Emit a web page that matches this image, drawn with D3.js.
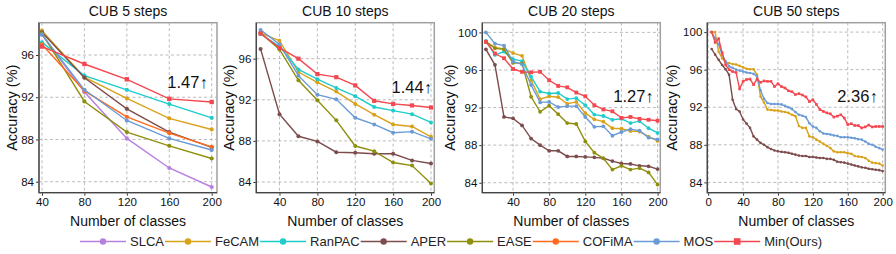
<!DOCTYPE html>
<html>
<head>
<meta charset="utf-8">
<script src="https://cdn.jsdelivr.net/npm/d3@7"></script>
<style>
  body { margin: 0; background: #fff; }
  svg { display: block; font-family: "Liberation Sans", Arial, sans-serif; }
</style>
</head>
<body>
<svg id="chart" width="896" height="254"></svg>
<script>
// Methods, in legend / drawing order
const methods = ['SLCA', 'FeCAM', 'RanPAC', 'APER', 'EASE', 'COFiMA', 'MOS', 'Min(Ours)'];
const colors = ['#b77fe0', '#d9a21b', '#1fcccc', '#7d4c4c', '#8f8f0e', '#ff6a1c', '#6b9bd6', '#f44750'];

// CUB 5 steps
const steps5X = [40, 80, 120, 160, 200];
const steps5 = [
  [97.9, 92.5, 88.1, 85.3, 83.5],
  [98.3, 93.9, 91.9, 90.0, 88.95],
  [97.2, 94.05, 92.7, 91.35, 90.05],
  [98.15, 93.85, 90.9, 88.7, 87.25],
  [98.05, 91.6, 88.7, 87.4, 86.2],
  [97.0, 92.6, 90.15, 88.6, 87.3],
  [97.95, 92.7, 89.8, 88.1, 87.0],
  [96.8, 95.15, 93.7, 91.85, 91.55]
];

// CUB 10 steps
const steps10X = [20, 40, 60, 80, 100, 120, 140, 160, 180, 200];
const steps10 = [
  null,
  [98.5, 97.75, 94.7, 93.7, 92.8, 91.6, 90.55, 89.6, 89.4, 88.4],
  [98.4, 97.2, 94.95, 94.0, 93.15, 92.35, 91.3, 90.95, 90.6, 89.8],
  [96.95, 90.6, 88.45, 87.95, 86.9, 86.85, 86.75, 86.75, 86.1, 85.8],
  [98.5, 96.9, 93.9, 91.95, 90.0, 87.5, 87.0, 85.9, 85.6, 83.85],
  null,
  [98.8, 97.4, 94.35, 92.5, 92.05, 90.25, 89.6, 88.8, 88.9, 88.2],
  [98.45, 97.05, 96.0, 94.5, 94.2, 93.4, 91.9, 91.6, 91.45, 91.25]
];

// CUB 20 steps
const steps20X = [10, 20, 30, 40, 50, 60, 70, 80, 90, 100, 110, 120, 130, 140, 150, 160, 170, 180, 190, 200];
const steps20 = [
  null,
  [99.0, 98.4, 98.25, 97.8, 97.5, 94.9, 92.9, 93.2, 93.1, 92.4, 92.6, 91.4, 90.75, 90.5, 89.8, 89.75, 89.5, 89.45, 88.9, 88.45],
  [99.1, 97.6, 97.95, 97.15, 96.95, 95.3, 93.7, 93.5, 93.55, 92.9, 93.0, 92.25, 91.25, 91.1, 90.7, 90.8, 90.35, 90.55, 89.8, 89.3],
  [98.2, 96.55, 91.0, 90.85, 90.1, 88.7, 88.0, 87.4, 87.4, 86.8, 86.8, 86.75, 86.7, 86.6, 86.3, 86.05, 86.0, 85.8, 85.75, 85.45],
  [99.0, 98.3, 98.2, 96.75, 96.7, 93.15, 91.55, 92.2, 91.3, 90.35, 90.25, 88.4, 87.2, 86.6, 85.4, 85.8, 85.4, 85.55, 85.1, 83.8],
  null,
  [100.0, 98.8, 98.6, 96.9, 96.6, 94.4, 92.55, 92.6, 92.05, 92.15, 92.15, 91.0, 89.95, 90.0, 89.0, 89.4, 89.7, 89.55, 88.8, 88.6],
  [99.0, 97.75, 97.25, 96.1, 95.8, 95.75, 95.8, 94.9, 94.3, 94.15, 93.6, 93.2, 92.25, 91.8, 91.6, 90.9, 91.0, 90.8, 90.7, 90.6]
];

// CUB 50 steps
const steps50X = [4, 8, 12, 16, 20, 24, 28, 32, 36, 40, 44, 48, 52, 56, 60, 64, 68, 72, 76, 80,
  84, 88, 92, 96, 100, 104, 108, 112, 116, 120, 124, 128, 132, 136, 140, 144, 148, 152, 156, 160,
  164, 168, 172, 176, 180, 184, 188, 192, 196, 200];
const steps50 = [
  null,
  [100, 100, 97.9, 97.2, 96.8, 96.7, 96.6, 96.55, 96.4, 96.25, 96.1, 96.05, 96.05, 95.45, 93.15, 92.5, 91.75, 91.7, 91.65, 91.65,
   91.55, 91.5, 91.4, 91.2, 91.05, 90.0, 89.8, 89.8, 88.9, 88.8, 88.55, 88.35, 88.1, 87.9, 87.65, 87.3, 87.2, 87.2, 87.2, 87.1,
   87.05, 86.8, 86.75, 86.7, 86.6, 86.3, 86.1, 86.05, 86.0, 85.8],
  null,
  [98.2, 97.6, 97.05, 96.5, 96.05, 95.45, 92.8, 91.8, 91.55, 90.7, 90.25, 89.8, 88.9, 88.55, 88.2, 88.0, 87.75, 87.55, 87.4, 87.3,
   87.25, 87.2, 87.15, 87.05, 86.95, 86.85, 86.8, 86.8, 86.7, 86.7, 86.65, 86.6, 86.6, 86.5, 86.5, 86.4, 86.2, 86.15, 86.1, 86.0,
   85.9, 85.8, 85.7, 85.6, 85.55, 85.45, 85.4, 85.35, 85.3, 85.2],
  null,
  null,
  [100, 99.3, 98.7, 97.6, 96.9, 96.35, 96.2, 96.0, 95.9, 95.8, 95.7, 95.65, 95.55, 95.3, 93.8, 92.9, 92.45, 92.35, 92.35, 92.35,
   92.3, 92.15, 92.0, 91.8, 91.5, 91.2, 91.1, 90.95, 90.3, 89.95, 89.8, 89.45, 89.2, 89.15, 89.1, 89.0, 88.95, 88.8, 88.8, 88.8,
   88.75, 88.7, 88.6, 88.55, 88.35, 88.1, 88.0, 87.8, 87.65, 87.5],
  [100, 98.9, 99.3, 97.8, 96.5, 96.0, 95.8, 95.7, 93.95, 94.75, 94.95, 95.0, 94.4, 95.0, 94.65, 94.8, 94.75, 94.75, 94.2, 94.5,
   94.2, 94.05, 93.75, 93.65, 93.35, 93.45, 93.3, 93.1, 92.6, 92.8, 92.3, 91.75, 91.55, 91.4, 91.3, 90.95, 91.05, 91.2, 90.85, 90.15,
   90.25, 90.05, 90.05, 89.8, 89.9, 90.1, 89.9, 89.95, 89.95, 89.95]
];

const titles = ['CUB 5 steps', 'CUB 10 steps', 'CUB 20 steps', 'CUB 50 steps'];
const gains = ['1.47↑', '1.44↑', '1.27↑', '2.36↑'];

const svg = d3.select('#chart');
const plotTop = 22.7, plotBottom = 192.7, plotW = 178;

const panels = [
  { xs: steps5X, rows: steps5, left: 39, xDom: [37.2, 205], yDom: [82.96, 99.06],
    xTicks: [40, 80, 120, 160, 200], yTicks: [84, 88, 92, 96], gainDx: -4, gainY: 92.9, r: 2.1, sq: 4.4, labelDx: 27 },
  { xs: steps10X, rows: steps10, left: 256.3, xDom: [15.5, 203.5], yDom: [82.96, 99.5],
    xTicks: [40, 80, 120, 160, 200], yTicks: [84, 88, 92, 96], gainDx: 1, gainY: 92.66, r: 2.0, sq: 4.2, labelDx: 27 },
  { xs: steps20X, rows: steps20, left: 482.3, xDom: [6, 203], yDom: [82.94, 101.03],
    xTicks: [40, 80, 120, 160, 200], yTicks: [84, 88, 92, 96, 100], gainDx: -4, gainY: 92.6, r: 1.9, sq: 3.8, labelDx: 32 },
  { xs: steps50X, rows: steps50, left: 707.3, xDom: [-1, 203], yDom: [82.9, 101],
    xTicks: [0, 40, 80, 120, 160, 200], yTicks: [84, 88, 92, 96, 100], gainDx: -5, gainY: 92.6, r: 1.3, sq: 2.6, labelDx: 35 }
];

panels.forEach((p, pi) => {
  const x = d3.scaleLinear().domain(p.xDom).range([p.left, p.left + plotW]);
  const y = d3.scaleLinear().domain(p.yDom).range([plotBottom, plotTop]);
  const g = svg.append('g');

  // dashed grid
  g.selectAll('.gx').data(p.xTicks).join('line')
    .attr('x1', d => x(d)).attr('x2', d => x(d))
    .attr('y1', plotTop).attr('y2', plotBottom)
    .attr('stroke', '#b3b3b3').attr('stroke-width', 0.9).attr('stroke-dasharray', '3,2.5');
  g.selectAll('.gy').data(p.yTicks).join('line')
    .attr('x1', p.left).attr('x2', p.left + plotW)
    .attr('y1', d => y(d)).attr('y2', d => y(d))
    .attr('stroke', '#b3b3b3').attr('stroke-width', 0.9).attr('stroke-dasharray', '3,2.5');

  // axes
  const xAxis = g.append('g').attr('transform', `translate(0,${plotBottom})`)
    .call(d3.axisBottom(x).tickValues(p.xTicks).tickSize(3).tickPadding(2).tickFormat(d3.format('d')));
  const yAxis = g.append('g').attr('transform', `translate(${p.left},0)`)
    .call(d3.axisLeft(y).tickValues(p.yTicks).tickSize(3).tickPadding(2).tickFormat(d3.format('d')));
  [xAxis, yAxis].forEach(a => {
    a.select('.domain').remove();
    a.selectAll('line').attr('stroke', '#333');
    a.selectAll('text').attr('font-size', 11.5).attr('fill', '#111')
      .attr('font-family', '"Liberation Sans", Arial, sans-serif');
  });

  // frame
  g.append('rect').attr('x', p.left).attr('y', plotTop).attr('width', plotW).attr('height', plotBottom - plotTop)
    .attr('fill', 'none').attr('stroke', '#a0a0a0').attr('stroke-width', 1.5);
  g.append('path')
    .attr('d', `M${p.left},${plotTop}V${plotBottom}H${p.left + plotW}`)
    .attr('fill', 'none').attr('stroke', '#444').attr('stroke-width', 1.3);

  // series
  const line = d3.line().x(d => x(d[0])).y(d => y(d[1]));
  p.rows.forEach((vals, mi) => {
    if (!vals) return;
    const pts = vals.map((v, i) => [p.xs[i], v]);
    const sg = g.append('g');
    sg.append('path').datum(pts).attr('d', line)
      .attr('fill', 'none').attr('stroke', colors[mi]).attr('stroke-width', 1.4);
    if (mi === 7) {
      sg.selectAll('rect').data(pts).join('rect')
        .attr('x', d => x(d[0]) - p.sq / 2).attr('y', d => y(d[1]) - p.sq / 2)
        .attr('width', p.sq).attr('height', p.sq).attr('fill', colors[mi]);
    } else {
      sg.selectAll('circle').data(pts).join('circle')
        .attr('cx', d => x(d[0])).attr('cy', d => y(d[1])).attr('r', p.r).attr('fill', colors[mi]);
    }
  });

  // improvement annotation
  g.append('text').attr('x', x(200) + p.gainDx).attr('y', y(p.gainY))
    .attr('text-anchor', 'end').attr('font-size', 16.5).attr('fill', '#111').text(gains[pi]);

  // title and axis labels
  const cx = p.left + plotW / 2;
  g.append('text').attr('x', cx).attr('y', 16).attr('text-anchor', 'middle')
    .attr('font-size', 14).attr('fill', '#111').text(titles[pi]);
  g.append('text').attr('x', cx).attr('y', 226).attr('text-anchor', 'middle')
    .attr('font-size', 14).attr('fill', '#111').text('Number of classes');
  const ly = (plotTop + plotBottom) / 2;
  g.append('text').attr('transform', `translate(${p.left - p.labelDx + 5},${ly}) rotate(-90)`)
    .attr('text-anchor', 'middle').attr('font-size', 14.5).attr('fill', '#111').text('Accuracy (%)');
});

// legend
const legend = svg.append('g');
let lx = 80;
const legY = 241.5;
methods.forEach((m, mi) => {
  const it = legend.append('g');
  it.append('line').attr('x1', lx).attr('x2', lx + 46).attr('y1', legY).attr('y2', legY)
    .attr('stroke', colors[mi]).attr('stroke-width', 1.4);
  if (mi === 7) {
    it.append('rect').attr('x', lx + 23 - 3.3).attr('y', legY - 3.3).attr('width', 6.6).attr('height', 6.6).attr('fill', colors[mi]);
  } else {
    it.append('circle').attr('cx', lx + 23).attr('cy', legY).attr('r', 3.2).attr('fill', colors[mi]);
  }
  const t = it.append('text').attr('x', lx + 50).attr('y', legY + 4.6)
    .attr('font-size', 13).attr('fill', '#222').text(m);
  lx = lx + 50 + t.node().getComputedTextLength() + 1;
});
</script>
</body>
</html>
